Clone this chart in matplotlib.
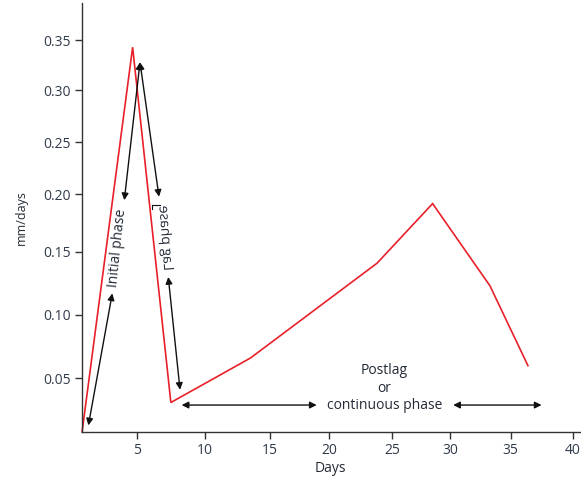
import numpy as np
import matplotlib
matplotlib.use("Agg")
import matplotlib.pyplot as plt
from matplotlib import transforms
from matplotlib.patches import PathPatch
from matplotlib.textpath import TextPath
from matplotlib.font_manager import FontProperties

plt.rcParams['font.family'] = ['Open Sans', 'DejaVu Sans']

# red growth-rate curve (days, mm/days)
days = [1.0, 4.7, 7.5, 13.5, 23.8, 28.5, 33.3, 36.4]
rate = [0.008, 0.343, 0.031, 0.066, 0.141, 0.192, 0.123, 0.060]

x_ticks = [5, 10, 15, 20, 25, 30, 35, 40]
y_ticks = [0.05, 0.10, 0.15, 0.20, 0.25, 0.30, 0.35]

# double-headed phase arrows: ((x0, y0), (x1, y1)) in days / mm/days
phase_arrows = [
    ((1.46, 0.013), (3.21, 0.117)),
    ((4.09, 0.195), (5.24, 0.328)),
    ((5.24, 0.328), (6.63, 0.198)),
    ((7.31, 0.130), (8.17, 0.041)),
    ((8.29, 0.029), (18.94, 0.029)),
    ((30.27, 0.029), (37.5, 0.029)),
]

# the printed axes are not evenly spaced; tick positions measured off the figure
x_knot_pos = [136.7, 205, 270, 329.3, 392.3, 450, 510.7, 572.7]
y_knot_pos = [53.7, 117.3, 180.3, 237.7, 289.7, 341.7, 392.0]


def piecewise(src, dst):
    src = np.asarray(src, float)
    dst = np.asarray(dst, float)
    lo_slope = (dst[1] - dst[0]) / (src[1] - src[0])
    hi_slope = (dst[-1] - dst[-2]) / (src[-1] - src[-2])

    def f(v):
        v = np.asarray(v, float)
        out = np.interp(v, src, dst)
        out = np.where(v < src[0], dst[0] + (v - src[0]) * lo_slope, out)
        out = np.where(v > src[-1], dst[-1] + (v - src[-1]) * hi_slope, out)
        return out
    return f


def mirrored_label(ax, s, x, y, tilt_deg, size, color):
    """Text printed reflected (reads upward, letter tops facing right)."""
    path = TextPath((0, 0), s, size=size, prop=FontProperties(family='Open Sans'))
    ext = path.get_extents()
    a = np.radians(tilt_deg)
    px = ax.figure.dpi / 72.0
    mtx = np.array([[-np.sin(a) * px, np.cos(a) * px, 0],
                    [np.cos(a) * px, np.sin(a) * px, 0],
                    [0, 0, 1]])
    tr = (transforms.Affine2D().translate(-(ext.x0 + ext.x1) / 2, -(ext.y0 + ext.y1) / 2)
          + transforms.Affine2D(mtx)
          + transforms.ScaledTranslation(x, y, ax.transData))
    ax.add_patch(PathPatch(path, transform=tr, facecolor=color, edgecolor='none'))


text_col = '#232b36'
fig = plt.figure(figsize=(5.81, 4.79), dpi=100)
ax = fig.add_axes([81.7 / 581, 1 - 432 / 479, (580 - 81.7) / 581, (432 - 3) / 479])

ax.set_xscale('function', functions=(piecewise(x_ticks, x_knot_pos), piecewise(x_knot_pos, x_ticks)))
ax.set_yscale('function', functions=(piecewise(y_ticks, y_knot_pos), piecewise(y_knot_pos, y_ticks)))
ax.set_xlim(0.97, 40.6)
ax.set_ylim(0.0078, 0.387)

ax.plot(days, rate, color='#e8202a', lw=1.2, solid_joinstyle='miter', clip_on=False)

for (x0, y0), (x1, y1) in phase_arrows:
    ax.annotate('', xy=(x1, y1), xytext=(x0, y0),
                arrowprops=dict(arrowstyle='<|-|>', color='#111111', lw=1.0,
                                shrinkA=0, shrinkB=0, mutation_scale=10))

ax.text(3.6, 0.153, 'Initial phase', rotation=84, ha='center', va='center',
        fontsize=10, color=text_col, rotation_mode='anchor')
mirrored_label(ax, 'Lag phase', 7.1, 0.162, 4.3, 10, text_col)
ax.plot([6.1, 6.7], [0.1907, 0.1907], color='#111111', lw=0.8)
ax.plot([6.1, 6.1], [0.1907, 0.187], color='#111111', lw=0.8)
ax.text(24.4, 0.0256, 'Postlag\nor\ncontinuous phase', ha='center', va='baseline',
        fontsize=10, color=text_col, linespacing=1.25, multialignment='center')

ax.set_xticks(x_ticks)
ax.set_yticks(y_ticks)
ax.set_xticklabels([str(t) for t in x_ticks])
ax.set_yticklabels([f'{t:.2f}' for t in y_ticks])
ax.minorticks_off()

for side in ('top', 'right'):
    ax.spines[side].set_visible(False)
for side in ('left', 'bottom'):
    ax.spines[side].set_color('#333333')
    ax.spines[side].set_linewidth(1.0)
ax.tick_params(length=5, width=1, color='#333333', labelsize=10,
               labelcolor='#2f3a4a', pad=3)

ax.set_xlabel('Days', fontsize=10, color=text_col, labelpad=2)
ax.set_ylabel('mm/days', fontsize=9, color=text_col, labelpad=11)

fig.savefig('out.png', dpi=100)
